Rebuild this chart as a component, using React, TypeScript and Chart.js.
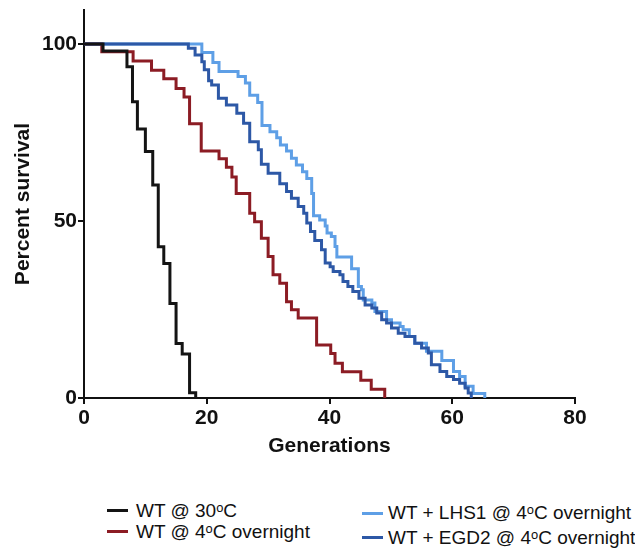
import React, { useEffect, useRef } from "react";
import { Chart, registerables } from "chart.js";

Chart.register(...registerables);

// ---- Data ----
const seriesLabels = [
  "WT @ 30ᵒC",
  "WT @ 4ᵒC overnight",
  "WT + LHS1 @ 4ᵒC overnight",
  "WT + EGD2 @ 4ᵒC overnight",
];

// WT @ 30°C  (generation at which survival steps, survival after the step)
const wt30Gen = [0, 3.1, 7.0, 7.9, 8.7, 10.0, 11.2, 12.1, 13.0, 14.0, 15.0, 16.0, 17.2, 18.2];
const wt30Pct = [100, 98, 93.6, 83.7, 76.0, 69.6, 60.2, 42.7, 38.0, 26.7, 15.4, 12.4, 1.5, 0];

// WT @ 4°C overnight
const wt4Gen = [0, 2.9, 8.0, 11.0, 13.0, 15.0, 16.3, 17.2, 19.1, 22.0, 23.2, 24.1, 24.8, 27.0, 27.8, 28.9, 30.0, 30.8, 31.9, 33.0, 33.8, 34.9, 37.9, 40.2, 40.9, 42.1, 45.1, 46.8, 49.0];
const wt4Pct = [100, 97.8, 95.2, 92.6, 90.2, 87.4, 85.0, 77.5, 69.8, 67.6, 65.2, 62.4, 57.8, 52.2, 49.8, 45.1, 40.0, 34.8, 32.4, 27.2, 24.9, 22.6, 15.0, 12.6, 9.8, 7.4, 5.0, 2.5, 0];

// WT + LHS1 @ 4°C overnight
const lhs1Gen = [0, 19.2, 21.0, 22.0, 25.1, 26.3, 27.0, 28.3, 29.0, 30.3, 31.4, 32.0, 33.0, 33.8, 34.6, 35.6, 36.3, 37.1, 37.4, 38.4, 39.3, 39.6, 40.3, 40.9, 41.2, 43.6, 44.7, 45.2, 45.5, 46.9, 47.4, 49.3, 50.1, 51.5, 52.0, 53.0, 53.9, 55.8, 58.3, 60.2, 61.2, 62.1, 63.4, 65.3];
const lhs1Pct = [100, 97.6, 94.8, 92.2, 90.8, 89.0, 85.5, 83.5, 77.0, 75.2, 73.5, 71.5, 69.8, 67.7, 65.8, 63.9, 62.0, 57.8, 51.5, 50.3, 48.6, 46.6, 45.6, 42.8, 39.8, 36.5, 31.5, 30.6, 27.7, 26.8, 24.4, 22.1, 21.2, 20.2, 19.3, 17.4, 15.5, 13.2, 10.6, 7.5, 6.1, 3.3, 1.3, 0];

// WT + EGD2 @ 4°C overnight
const egd2Gen = [0, 17.0, 18.1, 19.2, 19.6, 20.3, 20.8, 21.9, 23.2, 24.9, 26.0, 27.0, 28.4, 28.9, 30.0, 31.9, 33.0, 33.8, 34.9, 35.8, 36.3, 36.9, 37.6, 38.7, 39.3, 40.1, 40.6, 41.7, 42.2, 43.0, 43.8, 44.8, 45.8, 46.9, 47.7, 48.5, 49.3, 50.1, 51.2, 52.3, 53.9, 55.0, 56.1, 56.6, 58.0, 59.1, 60.2, 61.2, 62.1, 62.6, 63.1];
const egd2Pct = [100, 98.8, 96.9, 95.0, 92.7, 89.6, 88.4, 84.7, 82.8, 80.4, 77.6, 72.4, 70.1, 66.0, 63.5, 60.5, 58.3, 56.4, 54.1, 52.2, 49.4, 47.0, 44.5, 41.9, 38.1, 37.1, 35.7, 34.8, 32.9, 31.5, 30.1, 28.2, 26.3, 25.4, 24.0, 22.1, 21.2, 19.8, 18.3, 17.4, 15.5, 14.1, 12.7, 9.4, 7.5, 6.1, 5.2, 4.2, 2.8, 1.4, 0];

const xTicks = [0, 20, 40, 60, 80];
const yTicks = [0, 50, 100];

const COLORS = {
  black: "#141414",
  red: "#8c1c24",
  light: "#5e9fe6",
  dark: "#2d58a6",
};

const FONT = "'Liberation Sans', Arial, Helvetica, sans-serif";

export default function App() {
  const ref = useRef<HTMLCanvasElement>(null);

  useEffect(() => {
    document.documentElement.style.overflow = "hidden";
    if (!ref.current) return;
    const pts = (g: number[], p: number[]) => g.map((x, i) => ({ x, y: p[i] }));
    const axisFont = { family: FONT, size: 21, weight: "bold" as const };
    const gridCfg = {
      drawOnChartArea: false,
      drawTicks: true,
      tickLength: 6,
      color: "#111",
      lineWidth: 2,
    };
    const borderCfg = { display: true, color: "#111", width: 2 };

    const chart = new Chart(ref.current, {
      type: "line",
      data: {
        datasets: [
          { label: seriesLabels[0], data: pts(wt30Gen, wt30Pct), borderColor: COLORS.black, stepped: "before" },
          { label: seriesLabels[3], data: pts(egd2Gen, egd2Pct), borderColor: COLORS.dark, stepped: "before" },
          { label: seriesLabels[1], data: pts(wt4Gen, wt4Pct), borderColor: COLORS.red, stepped: "before" },
          { label: seriesLabels[2], data: pts(lhs1Gen, lhs1Pct), borderColor: COLORS.light, stepped: "before" },
        ],
      },
      options: {
        animation: false,
        responsive: true,
        maintainAspectRatio: false,
        layout: { padding: { left: 0, top: 2, right: 60, bottom: 0 } },
        plugins: { legend: { display: false }, tooltip: { enabled: false } },
        elements: {
          point: { radius: 0, hoverRadius: 0 },
          line: { borderWidth: 3, tension: 0, fill: false },
        },
        scales: {
          x: {
            type: "linear",
            min: 0,
            max: 80,
            afterBuildTicks: (s: any) => {
              s.ticks = xTicks.map((v) => ({ value: v }));
            },
            afterFit: (s: any) => {
              s.height = 70;
              s.paddingLeft = 0;
              s.paddingRight = 0;
            },
            grid: gridCfg,
            border: borderCfg,
            ticks: { font: axisFont, color: "#111", padding: 2, maxRotation: 0 },
            title: {
              display: true,
              text: "Generations",
              font: axisFont,
              color: "#111",
              padding: { top: 0, bottom: 9 },
            },
          },
          y: {
            type: "linear",
            min: 0,
            max: 109.6,
            afterBuildTicks: (s: any) => {
              s.ticks = yTicks.map((v) => ({ value: v }));
            },
            afterFit: (s: any) => {
              s.width = 76;
              s.paddingTop = 0;
              s.paddingBottom = 0;
            },
            grid: gridCfg,
            border: borderCfg,
            ticks: { font: axisFont, color: "#111", padding: 1 },
            title: {
              display: true,
              text: "Percent survival",
              font: axisFont,
              color: "#111",
              padding: { top: 2.5, bottom: 0 },
            },
          },
        },
      },
    });
    return () => chart.destroy();
  }, []);

  // legend entries (page coords minus 8px body margin)
  const legend = [
    { label: seriesLabels[0], color: COLORS.black, symX: 99, textX: 128, y: 502.5 },
    { label: seriesLabels[1], color: COLORS.red, symX: 99, textX: 128, y: 523.5 },
    { label: seriesLabels[2], color: COLORS.light, symX: 354, textX: 380, y: 505 },
    { label: seriesLabels[3], color: COLORS.dark, symX: 354, textX: 380, y: 529.5 },
  ];

  return (
    <div style={{ position: "relative", width: 627, height: 540, fontFamily: FONT }}>
      <div style={{ position: "relative", width: 627, height: 460 }}>
        <canvas ref={ref} />
      </div>
      {legend.map((l) => (
        <React.Fragment key={l.label}>
          <div
            style={{
              position: "absolute",
              left: l.symX,
              top: l.y - 1.5,
              width: 21,
              height: 3,
              background: l.color,
            }}
          />
          <div
            style={{
              position: "absolute",
              left: l.textX,
              top: l.y - 9,
              height: 18,
              lineHeight: "18px",
              fontSize: 19,
              color: "#111",
              whiteSpace: "nowrap",
            }}
          >
            {l.label}
          </div>
        </React.Fragment>
      ))}
    </div>
  );
}
